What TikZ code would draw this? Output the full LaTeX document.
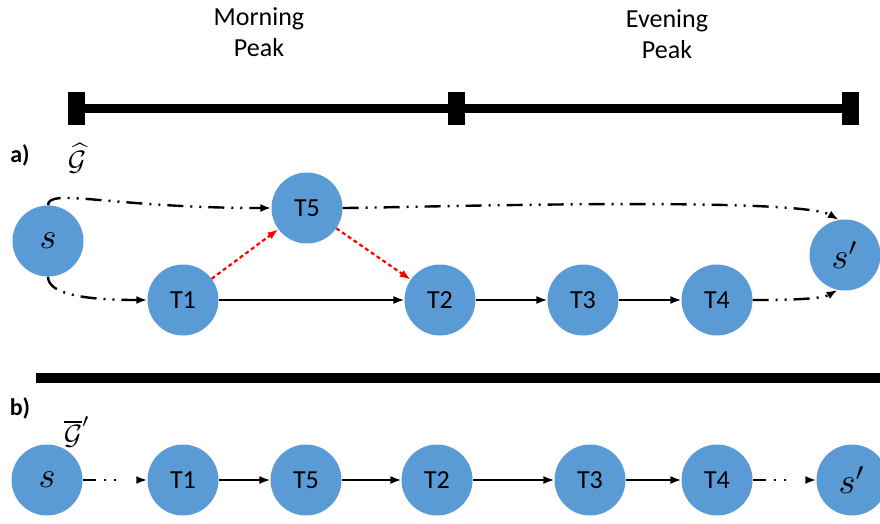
\documentclass[tikz,border=0pt]{standalone}
\usepackage{fontspec}
\setsansfont{Carlito}
\usetikzlibrary{arrows.meta}
\definecolor{nodeblue}{HTML}{5B9BD5}
\begin{document}
\begin{tikzpicture}[x=1pt,y=-1pt,
  tnode/.style={circle, fill=nodeblue, minimum size=71pt, inner sep=0pt,
     font=\sffamily\fontsize{26}{28}\selectfont},
  snode/.style={circle, fill=nodeblue, minimum size=71pt, inner sep=0pt},
  arr/.style={line width=1.8pt, -{Latex[length=11pt,width=8pt]}},
  ddot/.style={line width=2.4pt, dash pattern=on 16pt off 7pt on 2pt off 7pt on 2pt off 7pt,
     -{Latex[length=11pt,width=8pt]}},
  sdot/.style={line width=2.4pt, dash pattern=on 13pt off 8pt on 2pt off 8pt on 2pt off 40pt,
     -{Latex[length=11pt,width=8pt]}},
  redarr/.style={line width=2.2pt, red, dash pattern=on 4pt off 3pt, -{Latex[length=11pt,width=8pt]}},
  peak/.style={font=\sffamily\fontsize{26}{31}\selectfont, align=center},
  lab/.style={font=\sffamily\bfseries\fontsize{24}{26}\selectfont},
  glab/.style={inner sep=0pt}
]
\useasboundingbox (0,0) rectangle (880,523);
% timeline
\fill (68,103.5) rectangle (858,112.5);
\fill (68,92) rectangle (85,125);
\fill (448,92) rectangle (465,125);
\fill (842,92) rectangle (859,125);
\node[peak] (morning) at (259,32) {Morning\\Peak};
\node[peak] (evening) at (667,34) {Evening\\Peak};
% part a
\node[lab] (la) at (20,155) {a)};
\node[glab] (ga) at (77,158) {\scalebox{2.8}{$\widehat{\mathcal{G}}$}};
\node[snode] (s) at (48,241) {\scalebox{3.6}{$s$}};
\node[tnode] (T1) at (183,300) {T1};
\node[tnode] (T5) at (307,208) {T5};
\node[tnode] (T2) at (440,300) {T2};
\node[tnode] (T3) at (583,300) {T3};
\node[tnode] (T4) at (717,300) {T4};
\node[snode] (sp) at (845,255) {\scalebox{3.6}{$s'$}};
\draw[ddot] (s.north) .. controls +(0,-18) and +(-160,0) .. (T5.west);
\draw[ddot] (s.south) .. controls +(0,18) and +(-60,0) .. (T1.west);
\draw[ddot] (T5.east) to[out=0,in=150,looseness=0.25] (sp.100);
\draw[ddot] (T4.east) to[out=0,in=210,looseness=0.6] (sp.258);
\draw[redarr] (T1) -- (T5);
\draw[redarr] (T5) -- (T2);
\draw[arr] (T1) -- (T2);
\draw[arr] (T2) -- (T3);
\draw[arr] (T3) -- (T4);
% divider
\fill (36,373) rectangle (880,383);
% part b
\node[lab] (lb) at (20,408) {b)};
\node[glab] (gb) at (77,432) {\scalebox{2.8}{$\overline{\mathcal{G}}'$}};
\node[snode] (bs) at (47,480) {\scalebox{3.6}{$s$}};
\node[tnode] (bT1) at (183,480) {T1};
\node[tnode] (bT5) at (306,480) {T5};
\node[tnode] (bT2) at (437,480) {T2};
\node[tnode] (bT3) at (590,480) {T3};
\node[tnode] (bT4) at (717,480) {T4};
\node[snode] (bsp) at (852,480) {\scalebox{3.6}{$s'$}};
\draw[sdot] (bs) -- (bT1);
\draw[arr] (bT1) -- (bT5);
\draw[arr] (bT5) -- (bT2);
\draw[arr] (bT2) -- (bT3);
\draw[arr] (bT3) -- (bT4);
\draw[sdot] (bT4) -- (bsp);
\end{tikzpicture}
\end{document}
